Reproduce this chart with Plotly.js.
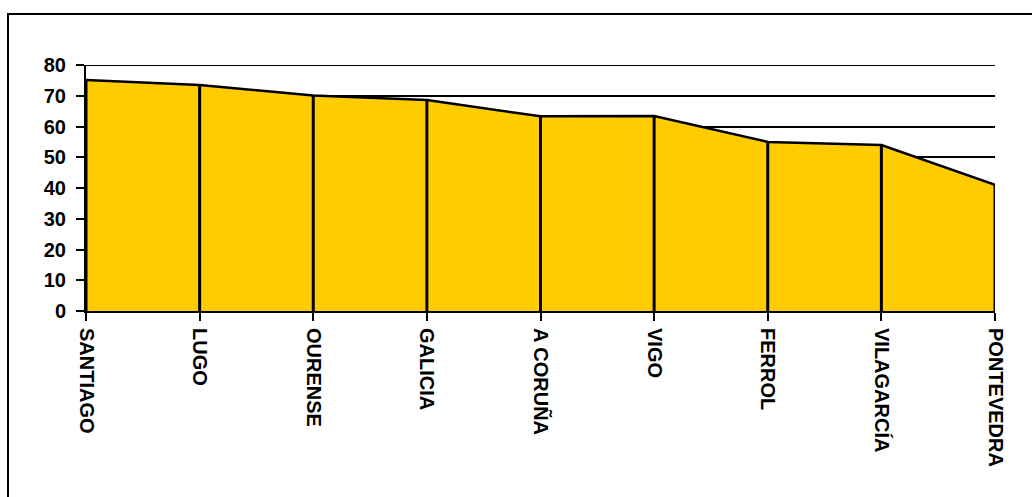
<!DOCTYPE html>
<html>
<head>
<meta charset="utf-8">
<script src="https://cdn.plot.ly/plotly-3.0.1.min.js"></script>
<style>
  html, body { margin: 0; padding: 0; background: #fff; }
  #wrap { position: relative; width: 1032px; height: 497px; overflow: hidden; }
  #chart { position: absolute; left: 0; top: 0; width: 1032px; height: 497px; }
  #frame { position: absolute; left: 7px; top: 13px; width: 1100px; height: 600px;
           border-left: 2px solid #000; border-top: 2px solid #000; pointer-events: none; }
</style>
</head>
<body>
<div id="wrap">
  <div id="chart"></div>
  <div id="frame"></div>
</div>
<script>
// Cities along the x axis
const cities = ["SANTIAGO", "LUGO", "OURENSE", "GALICIA", "A CORUÑA", "VIGO", "FERROL", "VILAGARCÍA", "PONTEVEDRA"];
// Value for each city
const values = [75.1, 73.5, 70.1, 68.6, 63.3, 63.4, 55.0, 54.0, 41.0];
// Y axis ticks
const yTicks = [0, 10, 20, 30, 40, 50, 60, 70, 80];

const font = { family: "Liberation Sans, Arial, sans-serif", size: 20, color: "#000", weight: "bold" };

const area = {
  type: "scatter",
  mode: "lines",
  x: cities,
  y: values,
  fill: "tozeroy",
  fillcolor: "#FFCC00",
  line: { color: "#000", width: 2.5 },
  // vertical drop line from each point down to zero
  error_y: {
    type: "data",
    symmetric: false,
    array: values.map(() => 0),
    arrayminus: values,
    color: "#000",
    thickness: 3,
    width: 0
  },
  hoverinfo: "x+y"
};

const yTop = yTicks[yTicks.length - 1];

const layout = {
  width: 1032,
  height: 497,
  margin: { l: 86, r: 37, t: 65, b: 186 },
  paper_bgcolor: "#fff",
  plot_bgcolor: "#fff",
  showlegend: false,
  font: font,
  xaxis: {
    type: "category",
    range: [0, cities.length - 1],
    showgrid: false,
    zeroline: false,
    showline: true,
    linecolor: "#000",
    linewidth: 2,
    ticks: "outside",
    ticklen: 8,
    tickwidth: 2,
    tickcolor: "#000",
    tickangle: 90,
    tickfont: font,
    ticklabelstandoff: 3,
    fixedrange: true
  },
  yaxis: {
    range: [0, yTop],
    tickvals: yTicks,
    ticktext: yTicks.map(String),
    showgrid: true,
    gridcolor: "#000",
    gridwidth: 2,
    zeroline: false,
    showline: true,
    linecolor: "#000",
    linewidth: 2,
    ticks: "outside",
    ticklen: 8,
    tickwidth: 2,
    tickcolor: "#000",
    tickfont: font,
    ticklabelstandoff: 6,
    fixedrange: true
  },
  // top gridline, which sits on the edge of the plot area
  shapes: [{
    type: "line", xref: "paper", yref: "y",
    x0: 0, x1: 1, y0: yTop, y1: yTop,
    line: { color: "#000", width: 2 },
    layer: "below"
  }]
};

Plotly.newPlot("chart", [area], layout, { displayModeBar: false, staticPlot: true });
</script>
</body>
</html>
